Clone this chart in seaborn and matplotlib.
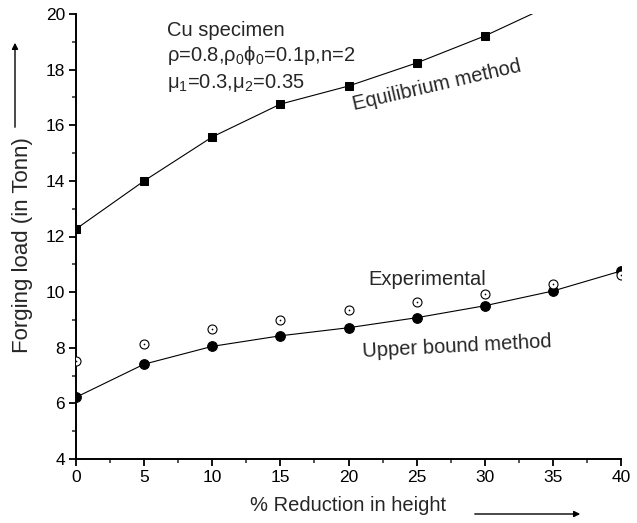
import matplotlib
matplotlib.use("Agg")
import matplotlib.pyplot as plt
import seaborn as sns
import numpy as np

# Data
reduction = [0, 5, 10, 15, 20, 25, 30, 35, 40]
equil_x = [0, 5, 10, 15, 20, 25, 30, 35]
equilibrium = [12.27, 14.0, 15.58, 16.76, 17.41, 18.24, 19.21, 20.35]
upper_bound = [6.22, 7.41, 8.05, 8.43, 8.72, 9.08, 9.51, 10.04, 10.76]
experimental = [7.52, 8.14, 8.66, 8.98, 9.34, 9.65, 9.93, 10.28, 10.61]
x_ticks = [0, 5, 10, 15, 20, 25, 30, 35, 40]
y_ticks = [4, 6, 8, 10, 12, 14, 16, 18, 20]

sns.set_style("ticks")
plt.rcParams['font.family'] = ['Liberation Sans', 'DejaVu Sans']
plt.rcParams['mathtext.fontset'] = 'custom'
plt.rcParams['mathtext.rm'] = 'Liberation Sans'
plt.rcParams['mathtext.it'] = 'Liberation Sans'
plt.rcParams['mathtext.default'] = 'regular'

fig = plt.figure(figsize=(6.37, 5.23), dpi=100)
ax = fig.add_axes([76/637, 1-459/523, 545/637, 445/523])

sns.lineplot(x=equil_x, y=equilibrium, ax=ax, color='black', linewidth=0.8,
             marker='s', markersize=6, markeredgecolor='black', markerfacecolor='black')
sns.lineplot(x=reduction, y=upper_bound, ax=ax, color='black', linewidth=0.8,
             marker='o', markersize=7, markeredgecolor='black', markerfacecolor='black')
sns.scatterplot(x=reduction, y=experimental, ax=ax, marker='o', s=42,
                facecolor='white', edgecolor='black', linewidth=0.8, zorder=5)
sns.scatterplot(x=reduction, y=experimental, ax=ax, marker='o', s=1.5,
                color='black', linewidth=0, zorder=6)

ax.set_xlim(0, 40)
ax.set_ylim(4, 20)
ax.set_xticks(x_ticks)
ax.set_yticks(y_ticks)
ax.set_xticks(np.arange(0, 40.1, 2.5), minor=True)
ax.set_yticks(np.arange(4, 20.1, 1), minor=True)
ax.tick_params(axis='both', which='major', direction='out', length=5, width=1.3,
               labelsize=12.5, colors='black', pad=3)
ax.tick_params(axis='both', which='minor', direction='out', length=3, width=1.1)
sns.despine(ax=ax)
for s in ['left', 'bottom']:
    ax.spines[s].set_linewidth(1.4)
    ax.spines[s].set_color('black')

ax.set_xlabel('% Reduction in height', fontsize=14.5)
ax.xaxis.set_label_coords(0.5, -0.083)
ax.set_ylabel('Forging load (in Tonn)', fontsize=16)
ax.yaxis.set_label_coords(-0.079, 0.481)

# Annotations
fs = 14.5
ax.text(6.68, 19.42, 'Cu specimen', fontsize=fs, ha='left', va='center')
ax.text(6.68, 18.49, r'ρ=0.8,ρ$_0$ϕ$_0$=0.1p,n=2', fontsize=fs, ha='left', va='center')
ax.text(6.68, 17.52, r'μ$_1$=0.3,μ$_2$=0.35', fontsize=fs, ha='left', va='center')
ax.text(26.5, 17.45, 'Equilibrium method', fontsize=fs, ha='center', va='center', rotation=13)
ax.text(25.76, 10.44, 'Experimental', fontsize=fs, ha='center', va='center')
ax.text(27.96, 8.06, 'Upper bound method', fontsize=fs, ha='center', va='center', rotation=3)

# Arrows next to axis labels
ax.annotate('', xy=(15, 483), xytext=(15, 393), xycoords='figure pixels',
            textcoords='figure pixels',
            arrowprops=dict(arrowstyle='-|>', color='black', lw=1, mutation_scale=9))
ax.annotate('', xy=(583, 9), xytext=(472, 9), xycoords='figure pixels',
            textcoords='figure pixels',
            arrowprops=dict(arrowstyle='-|>', color='black', lw=1, mutation_scale=9))

fig.savefig('out.png', dpi=100)
